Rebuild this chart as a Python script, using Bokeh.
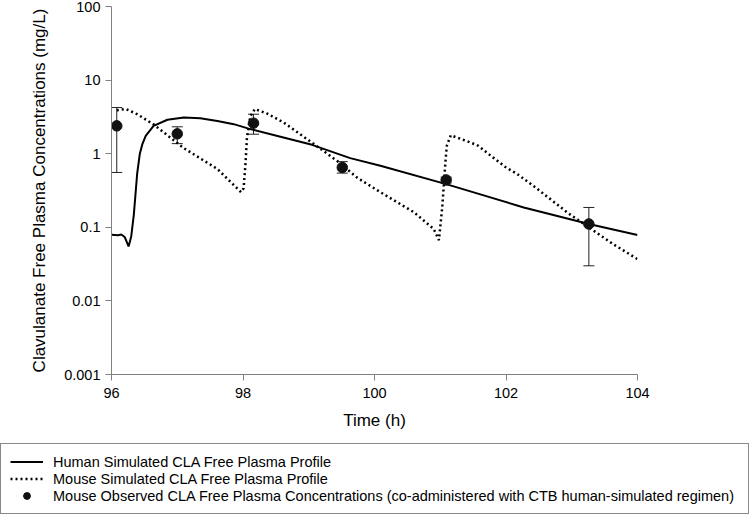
from bokeh.plotting import figure
from bokeh.layouts import column
from bokeh.models import (ColumnDataSource, Whisker, TeeHead, FixedTicker,
                          CustomJSTickFormatter, Legend, LegendItem, Range1d)
from bokeh.embed import file_html
from bokeh.resources import INLINE

# ---- data ----
human_t = [96.00, 96.10, 96.15, 96.20, 96.26, 96.30, 96.34, 96.39, 96.43, 96.47,
           96.52, 96.64, 96.85, 97.10, 97.35, 97.61, 97.86, 98.11, 98.57, 99.05,
           99.63, 100.09, 101.09, 102.27, 103.26, 104.00]
human_c = [0.079, 0.078, 0.080, 0.074, 0.055, 0.075, 0.15, 0.53, 0.99, 1.35,
           1.75, 2.39, 2.89, 3.10, 3.04, 2.79, 2.52, 2.16, 1.70, 1.32,
           0.87, 0.686, 0.386, 0.186, 0.111, 0.0785]

mouse_t = [96.08, 96.22, 96.39, 96.64, 97.10, 97.61, 97.97,
           98.01, 98.04, 98.06, 98.11, 98.18, 98.37, 98.62, 99.08, 99.43, 99.74,
           100.09, 100.60, 100.90, 100.98,
           101.03, 101.08, 101.10, 101.16, 101.46, 101.58, 101.73, 101.99, 102.17,
           102.45, 102.94, 103.63, 104.00]
mouse_c = [3.9, 4.05, 3.44, 2.5, 1.19, 0.62, 0.30,
           0.34, 0.78, 1.66, 3.2, 4.05, 3.5, 2.65, 1.35, 0.80, 0.47,
           0.30, 0.16, 0.095, 0.067,
           0.186, 0.80, 1.28, 1.78, 1.42, 1.28, 1.0, 0.66, 0.53,
           0.347, 0.157, 0.059, 0.037]

obs_t = [96.08, 97.00, 98.16, 99.51, 101.09, 103.26]
obs_c = [2.39, 1.86, 2.60, 0.65, 0.44, 0.111]
obs_lo = [0.556, 1.37, 1.84, 0.545, 0.40, 0.030]
obs_hi = [4.24, 2.32, 3.44, 0.78, 0.48, 0.186]

x_ticks = [96, 98, 100, 102, 104]
y_ticks = [0.001, 0.01, 0.1, 1, 10, 100]

labels = ["Human Simulated CLA Free Plasma Profile",
          "Mouse Simulated CLA Free Plasma Profile",
          "Mouse Observed CLA Free Plasma Concentrations (co-administered with CTB human-simulated regimen)"]

FONT = "Liberation Sans"
HUMAN_STYLE = dict(line_color="black", line_width=2)
MOUSE_STYLE = dict(line_color="black", line_width=2.5, line_dash="2 3")
OBS_STYLE = dict(fill_color="#111111", line_color="#111111")

p = figure(width=750, height=440, x_range=Range1d(96, 104), y_range=Range1d(0.001, 100),
           y_axis_type="log", output_backend="svg", toolbar_location=None,
           min_border_left=111, min_border_right=113, min_border_top=6, min_border_bottom=66)
p.outline_line_color = None
p.grid.visible = False
p.frame_align = False

p.line(human_t, human_c, **HUMAN_STYLE)
p.line(mouse_t, mouse_c, **MOUSE_STYLE)

src = ColumnDataSource(dict(t=obs_t, c=obs_c, lo=obs_lo, hi=obs_hi))
wh = Whisker(base="t", lower="lo", upper="hi", source=src, line_color="#222222", line_width=1,
             upper_head=TeeHead(size=11, line_color="#222222", line_width=1),
             lower_head=TeeHead(size=11, line_color="#222222", line_width=1))
p.add_layout(wh)
p.scatter("t", "c", source=src, size=10.5, **OBS_STYLE)

# axes
for ax in (p.xaxis[0], p.yaxis[0]):
    ax.axis_line_color = "#808080"
    ax.major_tick_line_color = "#808080"
    ax.major_tick_out = 6
    ax.major_tick_in = 0
    ax.minor_tick_line_color = None
    ax.major_label_text_font = FONT
    ax.major_label_text_font_size = "14.5px"
    ax.major_label_text_color = "black"
    ax.axis_label_text_font = FONT
    ax.axis_label_text_font_size = "17px"
    ax.axis_label_text_font_style = "normal"
    ax.axis_label_text_color = "black"

p.xaxis.ticker = FixedTicker(ticks=x_ticks)
p.yaxis.ticker = FixedTicker(ticks=y_ticks)
p.yaxis.formatter = CustomJSTickFormatter(
    code="return tick < 1 ? tick.toFixed(Math.round(-Math.log10(tick))) : tick.toFixed(0);")
p.xaxis.axis_label = "Time (h)"
p.yaxis.axis_label = "Clavulanate Free Plasma Concentrations (mg/L)"
p.xaxis.major_label_standoff = 7
p.yaxis.major_label_standoff = 5
p.xaxis.axis_label_standoff = 10
p.yaxis.axis_label_standoff = 12

# ---- legend panel below the chart (hidden copies of the series feed the legend) ----
q = figure(width=750, height=76, output_backend="svg", toolbar_location=None,
           x_axis_location=None, y_axis_location=None,
           x_range=Range1d(96, 104), y_range=Range1d(0.001, 100), y_axis_type="log",
           min_border_left=0, min_border_right=0, min_border_top=0, min_border_bottom=0)
q.outline_line_color = None
q.grid.visible = False
q.frame_align = False
k_h = q.line(human_t, human_c, visible=False, **HUMAN_STYLE)
k_m = q.line(mouse_t, mouse_c, visible=False, **MOUSE_STYLE)
k_o = q.scatter(obs_t, obs_c, size=10.5, visible=False, **OBS_STYLE)

legend = Legend(items=[LegendItem(label=labels[0], renderers=[k_h]),
                       LegendItem(label=labels[1], renderers=[k_m]),
                       LegendItem(label=labels[2], renderers=[k_o])],
                location=(0, 2), orientation="vertical", click_policy="none",
                label_text_font=FONT, label_text_font_size="14.5px", label_text_color="black",
                label_height=17, glyph_height=17, glyph_width=33, label_standoff=10,
                label_width=686, padding=9, spacing=0, margin=0,
                border_line_color="#111111", border_line_width=1,
                background_fill_color="white", background_fill_alpha=1.0)
q.add_layout(legend)

layout = column(p, q, spacing=0)
open("out.html", "w").write(file_html(layout, INLINE))
